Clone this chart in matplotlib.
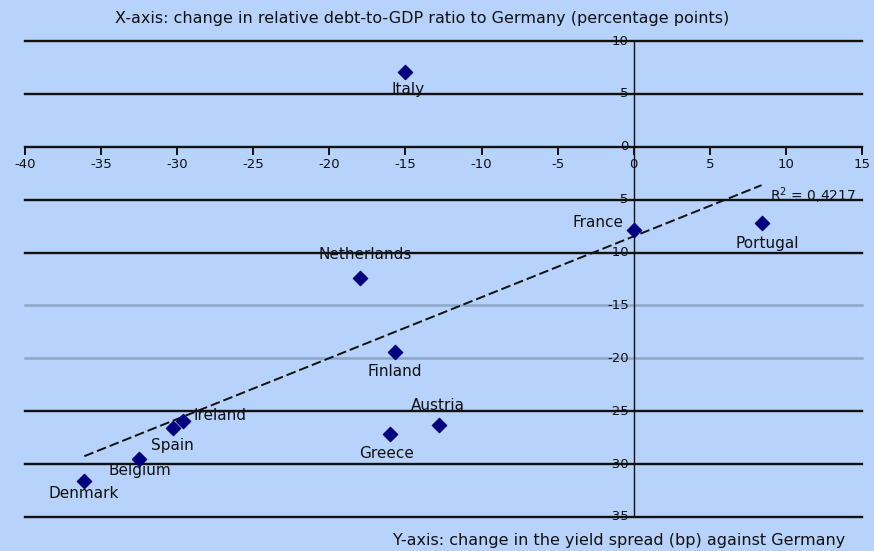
import numpy as np
import matplotlib.pyplot as plt

# Datos
countries = ['Italy', 'France', 'Portugal', 'Netherlands', 'Finland', 'Austria',
             'Greece', 'Ireland', 'Spain', 'Belgium', 'Denmark']
debt_change = [-15.0, 0.0, 8.4, -18.0, -15.7, -12.8, -16.0, -29.6, -30.3, -32.5, -36.1]
spread_change = [7.1, -7.9, -7.2, -12.4, -19.4, -26.3, -27.2, -25.9, -26.6, -29.5, -31.6]

x_ticks = [-40, -35, -30, -25, -20, -15, -10, -5, 0, 5, 10, 15]
y_ticks = [10, 5, 0, -5, -10, -15, -20, -25, -30, -35]
r2_text = 'R$^2$ = 0,4217'

# Posicion de las etiquetas (pixeles) respecto al punto
label_offsets = {
    'Italy': (3, -18, 'center'), 'France': (-10, 8, 'right'),
    'Portugal': (6, -21, 'center'), 'Netherlands': (5, 23, 'center'),
    'Finland': (0, -20, 'center'), 'Austria': (-1, 19, 'center'),
    'Greece': (-4, -19, 'center'), 'Ireland': (10, 5, 'left'),
    'Spain': (0, -17, 'center'), 'Belgium': (1, -12, 'center'),
    'Denmark': (-1, -12, 'center'),
}

bg = '#b7d2fb'
fig = plt.figure(figsize=(8.74, 5.51), dpi=100, facecolor=bg)
ax = fig.add_axes([25 / 874, 1 - 517 / 551, 837 / 874, 476 / 551])
ax.set_facecolor(bg)
ax.set_xlim(-40, 15)
ax.set_ylim(-35, 10)
for s in ax.spines.values():
    s.set_visible(False)
ax.set_xticks([])
ax.set_yticks([])

# Lineas horizontales
for y in y_ticks:
    if y in (-15, -20):
        ax.axhline(y, color='#8ea6c6', lw=1.8, zorder=1, clip_on=False)
    else:
        ax.axhline(y, color='#111111', lw=1.7, zorder=1, clip_on=False)
ax.axvline(0, color='#111111', lw=1.0, zorder=1)

# Marcas y etiquetas del eje x
for x in x_ticks:
    ax.plot([x, x], [0, 0], marker=3, ms=6, color='#111111', mew=1.2,
            clip_on=False, zorder=2)
    ax.annotate(f'{x}', (x, 0), xytext=(0, -18),
                textcoords='offset pixels', ha='center', va='center',
                fontsize=9.5, color='#111111')
# Etiquetas del eje y
for y in y_ticks:
    ax.annotate(f'{y}', (0, y), xytext=(-5, 0), textcoords='offset pixels',
                ha='right', va='center', fontsize=9.5, color='#111111',
                zorder=3)

# Recta de tendencia
slope, inter = np.polyfit(debt_change, spread_change, 1)
xs = np.array([min(debt_change), max(debt_change)])
ax.plot(xs, slope * xs + inter, ls=(0, (5, 2)), color='#111111', lw=1.4, zorder=2)
ax.annotate(r2_text, (xs[1], slope * xs[1] + inter), xytext=(8, -11),
            textcoords='offset pixels', ha='left', va='center', fontsize=10,
            color='#111111')

# Puntos
ax.scatter(debt_change, spread_change, marker='D', s=52, color='#00007f',
           zorder=4)
for name, x, y in zip(countries, debt_change, spread_change):
    dx, dy, ha = label_offsets[name]
    ax.annotate(name, (x, y), xytext=(dx, dy), textcoords='offset pixels',
                ha=ha, va='center', fontsize=11, color='#111111', zorder=5)

fig.text(422 / 874, 1 - 18 / 551,
         'X-axis: change in relative debt-to-GDP ratio to Germany (percentage points)',
         ha='center', va='center', fontsize=11.5, color='#111111')
fig.text(845 / 874, 1 - 540 / 551,
         'Y-axis: change in the yield spread (bp) against Germany',
         ha='right', va='center', fontsize=11.5, color='#111111')

fig.savefig('out.png', dpi=100, facecolor=bg)
